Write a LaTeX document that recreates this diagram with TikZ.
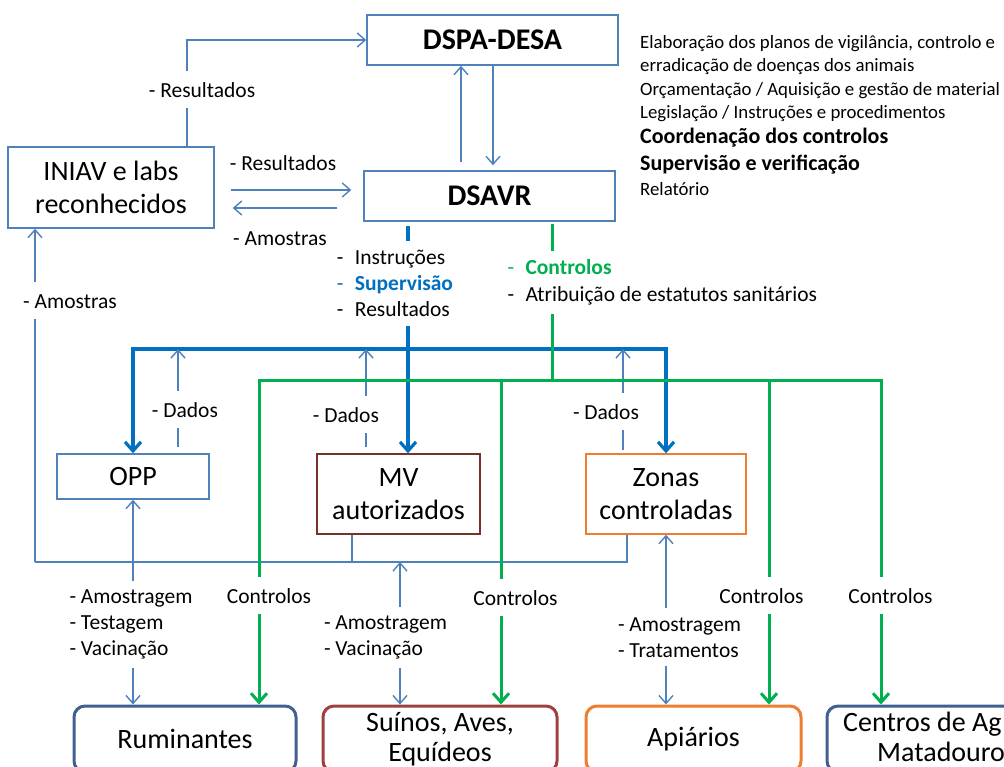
\documentclass[tikz,border=0pt]{standalone}
\usepackage{fontspec}
\setmainfont{Carlito}
\usetikzlibrary{arrows.meta, positioning}
\definecolor{lnBlue}{HTML}{4F81BD}
\definecolor{dkBlue}{HTML}{0070C0}
\definecolor{ctGreen}{HTML}{00B050}
\definecolor{mvRed}{HTML}{7B2F2B}
\definecolor{znOrange}{HTML}{ED7D31}
\definecolor{rmBlue}{HTML}{3F6090}
\definecolor{suRed}{HTML}{9E403D}
\newcommand{\lblfont}{\fontsize{21.5}{26}\selectfont}
\newcommand{\boxfont}{\fontsize{28}{33}\selectfont}
\newcommand{\hdfont}{\fontsize{30}{36}\selectfont\bfseries}
\newcommand{\notefont}{\fontsize{18.8}{23.4}\selectfont}
\newcommand{\notebf}{\fontsize{22}{26}\selectfont\bfseries}
\newcommand{\lstdash}{\makebox[18pt][l]{-}}

\begin{document}
\begin{tikzpicture}[x=1pt, y=-1pt,
    every node/.style={font=\lblfont},
    box/.style={draw=lnBlue, line width=1.4pt, align=center, font=\boxfont, inner sep=0pt},
    hdbox/.style={box, font=\hdfont, minimum width=251pt, minimum height=50pt},
    grpbox/.style={line width=3pt, rounded corners=11pt, align=center, font=\boxfont,
                   minimum height=66pt, inner sep=0pt},
    lbl/.style={fill=white, inner xsep=3pt, inner ysep=9pt, text height=17.5pt, text depth=1.5pt},
    lbls/.style={fill=white, inner xsep=3pt, inner ysep=9pt, align=left},
    ln/.style={draw=lnBlue, line width=1.4pt},
    arr/.style={ln, -{Straight Barb[length=8pt, width=14pt]}},
    darr/.style={arr, {Straight Barb[length=8pt, width=14pt]}-{Straight Barb[length=8pt, width=14pt]}},
    thk/.style={draw=dkBlue, line width=3.2pt, -{Straight Barb[length=9pt, width=16pt]}},
    dthk/.style={thk, {Straight Barb[length=9pt, width=16pt]}-{Straight Barb[length=9pt, width=16pt]}},
    gline/.style={draw=ctGreen, line width=3pt, line cap=rect},
    ctl/.style={gline, -{Straight Barb[length=9pt, width=16pt]}}
  ]
  \useasboundingbox (0,0) rectangle (1004,766);

  % --- authorities ---
  \node[hdbox] (dspa) at (492.5,40) {DSPA-DESA};
  \node[hdbox] (dsavr) at (489.5,196) {DSAVR};
  \node[box, minimum width=206pt, minimum height=81pt] (iniav) at (111,187.5) {INIAV e labs\\reconhecidos};
  \node[anchor=north west, align=left, inner sep=0pt, font=\notefont] (notas) at (640,35)
    {Elaboração dos planos de vigilância, controlo e\\
     erradicação de doenças dos animais\\
     Orçamentação / Aquisição e gestão de material\\
     Legislação / Instruções e procedimentos\\[2pt]
     {\notebf Coordenação dos controlos}\\[3.4pt]
     {\notebf Supervisão e verificação}\\[1.8pt]
     Relatório};

  % --- field level ---
  \node[box, minimum width=152pt, minimum height=45pt] (opp) at (133,476.5) {OPP};
  \node[box, draw=mvRed, minimum width=163pt, minimum height=80pt] (mv) at (398.5,494) {MV\\autorizados};
  \node[box, draw=znOrange, minimum width=160pt, minimum height=80pt] (zonas) at (666,494) {Zonas\\controladas};

  % --- holdings ---
  \node[grpbox, draw=rmBlue, minimum width=222pt] (rum) at (185,739) {Ruminantes};
  \node[grpbox, draw=suRed, minimum width=234pt] (sui) at (440,739) {Suínos, Aves,\\[-3pt]Equídeos};
  \node[grpbox, draw=znOrange, minimum width=215pt] (api) at (693.5,739) {Apiários};
  \node[grpbox, draw=rmBlue, minimum width=240pt] (cen) at (947,739) {};
  \node[font=\boxfont, align=left, anchor=west, inner sep=0pt] (centxt) at (843,737)
    {Centros de Ag\\[-3pt]\hspace*{34pt}Matadouro};

  \coordinate (bbus) at (0,349);
  \coordinate (gbus) at (0,380);
  \coordinate (lbus) at (35,562);
  \coordinate (mvin) at (400,562);

  % --- DSAVR <-> DSPA-DESA ---
  \draw[arr, shorten <=8pt] ([xshift=-28.5pt]dsavr.north) -- ([xshift=-28.5pt]dsavr.north |- dspa.south);
  \draw[arr, shorten >=5pt] ([xshift=3.5pt]dsavr.north |- dspa.south) -- ([xshift=3.5pt]dsavr.north);

  % --- laboratories ---
  \draw[arr] ([xshift=76pt]iniav.north) |- (dspa.west) node[lbl, pos=0.266, xshift=15pt] {- Resultados};
  \draw[arr, shorten <=16pt, shorten >=12pt] ([yshift=-2.5pt]iniav.east) -- ([yshift=-2.5pt]iniav.east -| dsavr.west)
    node[lbl, midway, above=8pt, xshift=-6pt] {- Resultados};
  \draw[arr, shorten <=26pt, shorten >=18pt] ([yshift=-20.5pt]iniav.east -| dsavr.west) -- ([yshift=-20.5pt]iniav.east)
    node[lbl, midway, below=10.5pt, xshift=-9pt] {- Amostras};

  % --- samples back to the labs ---
  \draw[ln] ([xshift=-39pt]zonas.south) |- (lbus);
  \draw[ln] ([xshift=-46.5pt]mv.south) -- ([xshift=-46.5pt]mv.south |- lbus);
  \draw[arr] (lbus) -- (lbus |- iniav.south) node[lbl, pos=0.784, xshift=35pt] {- Amostras};

  % --- supervision (blue) ---
  \draw[thk, shorten <=4pt] ([xshift=-81.5pt]dsavr.south) -- ([xshift=-81.5pt]dsavr.south |- mv.north)
    node[lbls, pos=0.266, xshift=-13pt] {\lstdash Instruções\\\textcolor{dkBlue}{\lstdash\bfseries Supervisão}\\\lstdash Resultados};
  \draw[dthk] (opp.north) -- (opp.north |- bbus) -| (zonas.north);

  \draw[arr, shorten <=6pt] ([xshift=45pt]opp.north) -- ([xshift=45pt]opp.north |- bbus)
    node[lbl, pos=0.42, xshift=7pt] {- Dados};
  \draw[arr, shorten <=6pt] ([xshift=-32.5pt]mv.north) -- ([xshift=-32.5pt]mv.north |- bbus)
    node[lbl, pos=0.37, xshift=-20pt] {- Dados};
  \draw[arr, shorten <=3pt] ([xshift=-43pt]zonas.north) -- ([xshift=-43pt]zonas.north |- bbus)
    node[lbl, pos=0.40, xshift=-17pt] {- Dados};

  % --- field work ---
  \draw[darr] (rum.north -| opp.south) -- (opp.south)
    node[lbls, pos=0.406, xshift=-2pt, yshift=-3pt] {- Amostragem\\- Testagem\\- Vacinação};
  \draw[darr] (mvin |- sui.north) -- (mvin)
    node[lbls, pos=0.49, xshift=-14.5pt, yshift=-3pt] {- Amostragem\\- Vacinação};
  \draw[darr] (api.north -| zonas.south) -- (zonas.south)
    node[lbls, pos=0.404, xshift=13.5pt, yshift=-1.5pt] {- Amostragem\\- Tratamentos};

  % --- controls (green) ---
  \draw[gline, shorten <=4pt] ([xshift=62.5pt]dsavr.south) -- ([xshift=62.5pt]dsavr.south |- gbus)
    node[lbls, pos=0.384, anchor=west, xshift=-49pt]
    {\textcolor{ctGreen}{\lstdash\bfseries Controlos}\\[1pt]\lstdash Atribuição de estatutos sanitários};
  \draw[gline] ([xshift=74pt]rum.north |- gbus) -- ([xshift=-66pt]cen.north |- gbus);
  \draw[ctl] ([xshift=74pt]rum.north |- gbus) -- ([xshift=74pt]rum.north)
    node[lbl, pos=0.663, xshift=10pt] {Controlos};
  \draw[ctl] ([xshift=61pt]sui.north |- gbus) -- ([xshift=61pt]sui.north)
    node[lbl, pos=0.669, xshift=14.5pt] {Controlos};
  \draw[ctl] ([xshift=75.5pt]api.north |- gbus) -- ([xshift=75.5pt]api.north)
    node[lbl, pos=0.663, xshift=-7.5pt] {Controlos};
  \draw[ctl] ([xshift=-66pt]cen.north |- gbus) -- ([xshift=-66pt]cen.north)
    node[lbl, pos=0.663, xshift=9.5pt] {Controlos};
\end{tikzpicture}
\end{document}
